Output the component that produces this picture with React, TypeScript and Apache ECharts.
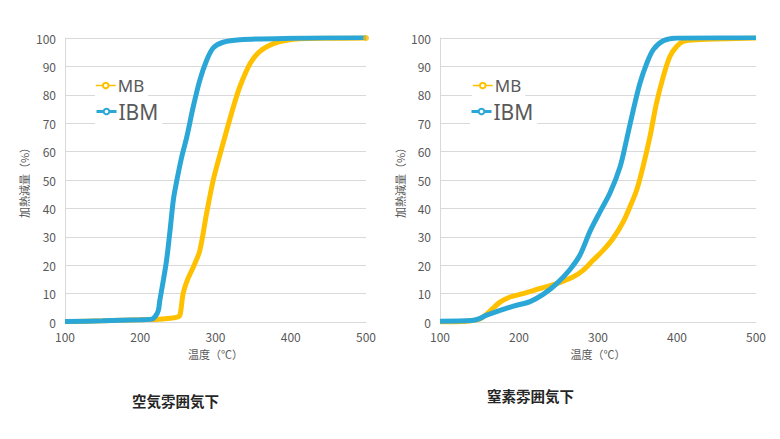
import React, { useEffect, useRef } from "react";
import * as echarts from "echarts";

// 空気雰囲気下 (air)
const airMB: [number, number][] = [
  [100, 0.1], [150, 0.4], [200, 0.8], [225, 1.0], [240, 1.3], [250, 1.8], [253, 2.6],
  [257, 10], [263, 15], [270.6, 19.4], [279, 25], [288, 38], [297, 50], [306, 59],
  [315, 67.6], [324, 76], [332.6, 83], [346, 91], [359, 95.3], [377, 98], [394.6, 99.2],
  [412, 99.7], [450, 99.9], [500, 100],
];
const airIBM: [number, number][] = [
  [100, 0.2], [150, 0.4], [200, 0.8], [215, 1.0], [220, 2.0], [224, 4], [226, 7.6],
  [230.7, 14.7], [235, 21.8], [239.5, 32], [244, 43], [248, 49], [255, 58], [261.7, 65],
  [270.6, 76], [279, 85], [288, 92], [297, 96.5], [310, 98.5], [332.6, 99.4], [400, 99.9],
  [500, 100.2],
];
// 窒素雰囲気下 (nitrogen)
const n2MB: [number, number][] = [
  [100, 0], [130, 0.2], [150, 1], [160, 3], [176, 7], [188.6, 8.8], [205, 10],
  [226.6, 11.8], [247.7, 13.5], [268.8, 15.9], [281, 18.2], [294, 21.8], [306.7, 25.3],
  [319, 29.4], [332, 35.3], [340.5, 40.6], [349, 46.5], [357, 54.7], [365.8, 65.3],
  [374, 77], [382.7, 86.5], [391, 93.5], [399.5, 97], [408, 98.8], [425, 99.4], [500, 100],
];
const n2IBM: [number, number][] = [
  [100, 0.3], [140, 0.5], [150, 1.2], [159, 2.4], [176, 4.1], [193, 5.6], [214, 7.2],
  [231, 9.8], [247.7, 13.5], [264.5, 18.5], [277, 23.5], [290, 32], [302.5, 38.8],
  [315, 45.3], [328, 54.7], [336, 64], [344.7, 74.7], [353, 84], [361.6, 91], [370, 95.9],
  [382.7, 99], [399.5, 100], [500, 100.2],
];
const airEnd: [number, number][] = [[500, 100]];
const n2End: [number, number][] = [[500, 100.2]];

const xTicks = { min: 100, max: 500, interval: 100 };
const yTicks = { min: 0, max: 100, interval: 10 };
const titles = ["空気雰囲気下", "窒素雰囲気下"];
const xName = "温度（℃）";
const yName = "加熱減量（%）";

const MB_COLOR = "#FFC000";
const IBM_COLOR = "#2AA7D6";
const FONT = "'Noto Sans CJK JP', 'Noto Sans', sans-serif";
const LABEL = "#595959";
const GRID = "#D9D9D9";

export default function App() {
  const ref = useRef<HTMLDivElement>(null);
  useEffect(() => {
    if (!ref.current) return;
    const chart = echarts.init(ref.current, undefined, { renderer: "svg" });
    const xAxis = (gridIndex: number) => ({
      type: "value",
      gridIndex,
      ...xTicks,
      name: xName,
      nameLocation: "middle",
      nameGap: 26,
      nameTextStyle: { color: LABEL, fontSize: 11, fontFamily: FONT },
      axisLine: { show: true, lineStyle: { color: GRID } },
      axisTick: { show: false },
      splitLine: { show: false },
      axisLabel: { color: LABEL, fontSize: 12, fontFamily: FONT, margin: 8 },
    });
    const yAxis = (gridIndex: number, gap: number) => ({
      type: "value",
      gridIndex,
      ...yTicks,
      name: yName,
      nameLocation: "middle",
      nameGap: gap,
      nameRotate: 90,
      nameTextStyle: { color: LABEL, fontSize: 11, fontFamily: FONT },
      axisLine: { show: true, lineStyle: { color: GRID } },
      axisTick: { show: false },
      splitLine: { show: true, lineStyle: { color: GRID } },
      axisLabel: { color: LABEL, fontSize: 12, fontFamily: FONT, margin: 9 },
    });
    const line = (name: string, data: [number, number][], idx: number, color: string) => ({
      type: "line",
      name,
      xAxisIndex: idx,
      yAxisIndex: idx,
      data,
      smooth: 0.3,
      symbol: "emptyCircle",
      symbolSize: 5,
      showSymbol: false,
      lineStyle: { color, width: 5 },
      itemStyle: { color },
      z: name === "IBM" ? 3 : 2,
    });
    const legend = (name: string, left: number, top: number, fontSize: number, lw: number) => ({
      data: [name],
      left,
      top,
      orient: "vertical",
      itemWidth: 20,
      itemHeight: 7,
      itemGap: 0,
      padding: [2, 4, 2, 0],
      backgroundColor: "#ffffff",
      lineStyle: { width: lw },
      textStyle: { color: LABEL, fontSize, fontFamily: "'Noto Sans', sans-serif", padding: [0, 0, 0, -3] },
    });
    chart.setOption({
      animation: false,
      backgroundColor: "#ffffff",
      title: [
        { text: titles[0], left: 127, top: 388, textStyle: { fontSize: 14.5, fontWeight: "bold", color: "#262626", fontFamily: FONT } },
        { text: titles[1], left: 482, top: 383, textStyle: { fontSize: 14.5, fontWeight: "bold", color: "#262626", fontFamily: FONT } },
      ],
      legend: [
        legend("MB", 95, 75, 17, 1.5),
        legend("IBM", 95, 99, 21, 3),
        legend("MB", 472, 75, 17, 1.5),
        legend("IBM", 470, 99, 21, 3),
      ],
      grid: [
        { left: 65, top: 38, width: 301, height: 284 },
        { left: 440, top: 38, width: 316, height: 284 },
      ],
      xAxis: [xAxis(0), xAxis(1)],
      yAxis: [yAxis(0, 36), yAxis(1, 35)],
      series: [
        line("MB", airMB, 0, MB_COLOR),
        line("IBM", airIBM, 0, IBM_COLOR),
        line("MB", n2MB, 1, MB_COLOR),
        line("IBM", n2IBM, 1, IBM_COLOR),
        { type: "scatter", name: "end1", xAxisIndex: 0, yAxisIndex: 0, data: airEnd, symbolSize: 6, itemStyle: { color: "#F5B800" }, z: 4 },
        { type: "scatter", name: "end2", xAxisIndex: 1, yAxisIndex: 1, data: n2End, symbolSize: 6, itemStyle: { color: "#ED7D31" }, z: 4 },
      ],
    });
    return () => chart.dispose();
  }, []);
  return <div ref={ref} style={{ width: 780, height: 439, margin: -8 }} />;
}
